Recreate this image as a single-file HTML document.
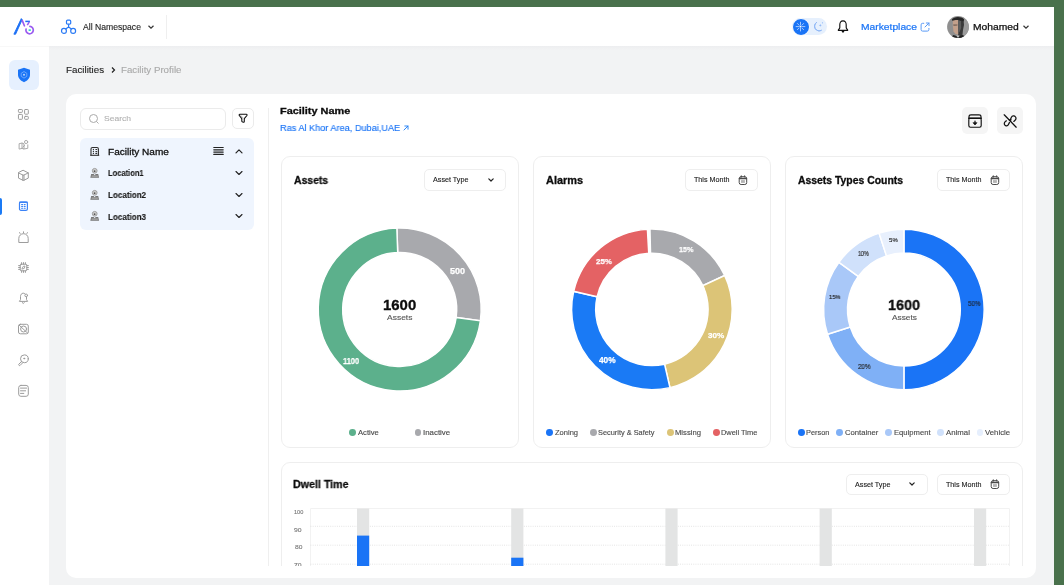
<!DOCTYPE html>
<html><head><meta charset="utf-8">
<style>
*{box-sizing:border-box;margin:0;padding:0}
html,body{width:1064px;height:585px;overflow:hidden}
body{position:relative;background:#f2f3f4;font-family:"Liberation Sans",sans-serif;color:#1d1d1d}
.a{position:absolute}
.t{position:absolute;white-space:nowrap;line-height:1;transform-origin:0 0;will-change:transform;-webkit-text-stroke-width:0.12px}
.band-top{left:0;top:0;width:1064px;height:7px;background:#49714c}
.band-right{left:1054px;top:0;width:10px;height:585px;background:#49714c}
.header{left:0;top:7px;width:1054px;height:39px;background:#fff}
.sidebar{left:0;top:46px;width:49px;height:539px;background:#fff;border-top:1px solid #f8f8f8}
.card{position:absolute;background:#fff;border-radius:10px}
.box{position:absolute;border:1px solid #eeeeee;border-radius:9px;background:#fff}
.btn{position:absolute;border:1px solid #eeeeee;border-radius:5px;background:#fff}
.title{font-weight:bold;font-size:11px;color:#111}
.lg{font-size:8px;color:#555}
.dot{position:absolute;width:7px;height:7px;border-radius:50%}
</style></head><body>
<div class="a band-top"></div>
<div class="a band-right"></div>
<div class="a header"></div>
<div class="a sidebar"></div>
<div class="a" style="left:49px;top:46px;width:1005px;height:4px;background:linear-gradient(#edeef0,#f2f3f4)"></div>

<!-- logo -->
<svg class="a" style="left:0;top:7px" width="50" height="39" viewBox="0 7 50 39">
  <path d="M13.9,34.2 L15.6,34.2 L22.2,19.6 L21.3,18.6Z" fill="#1a6ef5" stroke="#1a6ef5" stroke-width="0.9" stroke-linejoin="round"/>
  <path d="M22.3,20.6 L24.4,25.8" stroke="#9b5cf0" stroke-width="1.7" stroke-linecap="round" fill="none"/>
  <path d="M25.3,21.4 L29.9,21.4" stroke="#1a6ef5" stroke-width="1.5" fill="none"/>
  <path d="M29.3,21.8 L27.3,25.2" stroke="#9b5cf0" stroke-width="1.5" fill="none"/>
  <path d="M29.92,26.41 A3.7,3.7 0 1 1 26.03,29.14" stroke="#9b5cf0" stroke-width="1.7" fill="none" stroke-linecap="round"/>
  <rect x="28.6" y="29.3" width="2.2" height="1.7" fill="#2de0c0"/>
</svg>

<!-- namespace -->
<svg class="a" style="left:60px;top:18px" width="18" height="17" viewBox="0 0 18 17">
  <rect x="6.5" y="2.2" width="4.2" height="4" rx="1.1" stroke="#2a7af5" stroke-width="1.2" fill="none"/>
  <circle cx="3.95" cy="12.9" r="2.45" stroke="#2a7af5" stroke-width="1.2" fill="none"/>
  <circle cx="13.15" cy="12.9" r="2.45" stroke="#2a7af5" stroke-width="1.2" fill="none"/>
  <path d="M8.6,6.2 V9 M8.6,9 L5.6,10.9 M8.6,9 L11.5,10.9" stroke="#2a7af5" stroke-width="1.2" fill="none"/>
</svg>
<svg class="a" style="left:147.3px;top:23.6px" width="8" height="6" viewBox="0 0 8 6"><path d="M1.5,1.8 L4,4.2 L6.5,1.8" stroke="#333" stroke-width="1.2" fill="none"/></svg>
<div class="a" style="left:166px;top:15px;width:1px;height:24px;background:#efefef"></div>

<!-- header right -->
<div class="a" style="left:792px;top:17.6px;width:35px;height:17.8px;border-radius:9px;background:#e6f0fd"></div>
<div class="a" style="left:791.5px;top:17.6px;width:18px;height:18px;border-radius:50%;background:#1a74f6;border:1px solid #fff"></div>
<svg class="a" style="left:792px;top:18px" width="17" height="17" viewBox="0 0 17 17">
  <path d="M10.40,8.60 L12.90,8.60 M9.84,9.94 L11.61,11.71 M8.50,10.50 L8.50,13.00 M7.16,9.94 L5.39,11.71 M6.60,8.60 L4.10,8.60 M7.16,7.26 L5.39,5.49 M8.50,6.70 L8.50,4.20 M9.84,7.26 L11.61,5.49 " stroke="#c9ddfc" stroke-width="0.8" fill="none" stroke-linecap="round"/>
  <path d="M8.5,7.4 L9.7,8.6 L8.5,9.8 L7.3,8.6Z" fill="#fff"/>
</svg>
<svg class="a" style="left:810px;top:18px" width="17" height="17" viewBox="0 0 17 17">
  <path d="M6.8,4.3 A4.6,4.6 0 1 0 11.6,12.2 A3.7,3.7 0 0 1 6.8,4.3Z" stroke="#8fb8f7" stroke-width="1" fill="none" stroke-linejoin="round"/>
  <path d="M10.3,6 L10.8,7 L11.8,7.4 L10.8,7.8 L10.3,8.8 L9.8,7.8 L8.8,7.4 L9.8,7Z" fill="#8fb8f7"/>
  <circle cx="12.5" cy="4.8" r=".6" fill="#8fb8f7"/>
</svg>
<svg class="a" style="left:835.5px;top:19px" width="14" height="15" viewBox="0 0 14 15">
  <path d="M7,1.8 C4.8,1.8 3.8,3.6 3.8,5.8 V8.4 C3.8,9.8 2.3,10.3 2.3,11.3 H11.7 C11.7,10.3 10.2,9.8 10.2,8.4 V5.8 C10.2,3.6 9.2,1.8 7,1.8Z" stroke="#111" stroke-width="1.15" fill="none" stroke-linejoin="round"/>
  <path d="M5.9,11.6 L7,13.3 L8.1,11.6" stroke="#111" stroke-width="1.1" fill="none" stroke-linejoin="round"/>
</svg>
<svg class="a" style="left:919px;top:20.5px" width="12" height="12" viewBox="0 0 12 12">
  <path d="M5.2,2.3 H3.6 A1.5,1.5 0 0 0 2.1,3.8 V8.6 A1.5,1.5 0 0 0 3.6,10.1 H8.4 A1.5,1.5 0 0 0 9.9,8.6 V7" stroke="#5a9af6" stroke-width="1" fill="none"/>
  <path d="M7.3,2 H10 V4.7 M10,2 L6,6" stroke="#5a9af6" stroke-width="1" fill="none" stroke-linecap="round" stroke-linejoin="round"/>
</svg>
<svg class="a" style="left:947px;top:15.8px" width="22" height="22" viewBox="0 0 22 22">
  <defs><clipPath id="av"><circle cx="11" cy="11" r="10.9"/></clipPath></defs>
  <g clip-path="url(#av)">
    <rect width="22" height="22" fill="#8f8f8f"/>
    <rect x="16" y="0" width="6" height="22" fill="#9c9c9c"/>
    <path d="M11,2 L16.5,3 L17,9 L16,14 L15,22 H11Z" fill="#3a3a3a"/>
    <path d="M5.8,4 L11,3.2 L11.3,18.5 L8.5,18 L6.5,15.5 L5.8,10Z" fill="#c3a08b"/>
    <path d="M11,4 L14,5 L14.2,12 L12.5,16 L11.2,17Z" fill="#5c5c5c"/>
    <path d="M6.2,8.6 L10.5,8.4 L10.4,9.6 L6.5,9.7Z" fill="#6a5a52"/>
    <path d="M4.8,3.5 C7,0.2 14,0 17.2,3.2 L16.5,5.5 C14,4 8,3.4 5.6,5Z" fill="#262626"/>
    <path d="M3,22 L6.5,19 L11,20.5 L16,19 L19,22Z" fill="#222"/>
    <path d="M9.3,19.8 L11,22 L12.7,19.8 L11,19.2Z" fill="#bdbdbd"/>
  </g>
</svg>
<svg class="a" style="left:1021.5px;top:24px" width="8" height="6" viewBox="0 0 8 6"><path d="M1.5,1.8 L4,4.2 L6.5,1.8" stroke="#333" stroke-width="1.2" fill="none"/></svg>

<!-- sidebar -->
<div class="a" style="left:9px;top:60px;width:30px;height:30px;border-radius:6px;background:#e6f0fe"></div>
<svg class="a" style="left:17px;top:67px" width="14" height="16" viewBox="0 0 14 16">
  <path d="M7,0.8 L13,2.8 V7.8 C13,11.4 10.2,13.8 7,15.2 C3.8,13.8 1,11.4 1,7.8 V2.8Z" fill="#1a74f6"/>
  <path d="M7,4.5 L9.8,6.3 V9.4 L7,11.1 L4.2,9.4 V6.3Z" fill="none" stroke="#7fb0fa" stroke-width="0.8"/>
  <circle cx="7" cy="7.8" r="1" fill="#b9d5fc"/>
</svg>
<div class="a" style="left:0;top:198px;width:2px;height:17px;background:#1a7af5;border-radius:0 2px 2px 0"></div>
<svg class="a" style="left:12px;top:102px" width="24" height="24" viewBox="0 0 24 24" fill="none" stroke="#9c9c9c" stroke-width="1" stroke-linecap="round" stroke-linejoin="round"><rect x="6.45" y="7.5" width="3.95" height="2.9" rx=".7"/><rect x="6.45" y="12.4" width="3.95" height="4.9" rx=".7"/><rect x="12.6" y="7.5" width="3.7" height="4.7" rx=".7"/><rect x="12.6" y="14.4" width="3.7" height="2.9" rx=".7"/></svg><svg class="a" style="left:12px;top:133px" width="24" height="24" viewBox="0 0 24 24" fill="none" stroke="#9c9c9c" stroke-width="1" stroke-linecap="round" stroke-linejoin="round"><path d="M7.5,10.6 L10,10.1 L12,10.8 V16 L10,15.4 L7.5,16Z" stroke="#aaa"/><path d="M10,10.1 V15.4 M12,16 L15.8,15.3 V11.8" stroke="#aaa"/><circle cx="14.1" cy="9" r="1.6" stroke="#aaa"/><path d="M10.8,14.2 L12.6,12.4" stroke="#aaa"/></svg><svg class="a" style="left:12px;top:163px" width="24" height="24" viewBox="0 0 24 24" fill="none" stroke="#9c9c9c" stroke-width="1" stroke-linecap="round" stroke-linejoin="round"><path d="M11.4,7.4 L16.3,9.9 V15.1 L11.4,17.5 L6.5,15.1 V9.9Z"/><path d="M6.5,9.9 L11.4,12.3 L16.3,9.9 M10.8,12 V17.3 M12,12 V17.3"/></svg><svg class="a" style="left:12px;top:194px" width="24" height="24" viewBox="0 0 24 24" fill="none" stroke="#3b82f6" stroke-width="1.2" stroke-linecap="round" stroke-linejoin="round"><rect x="7.5" y="8.1" width="7.9" height="8.2" rx="1.4"/><path d="M7.8,8.3 H15.1" stroke-width="1.6"/><path d="M9.6,10.6 H10.6 M12.2,10.6 H13.2 M9.6,12.5 H10.6 M12.2,12.5 H13.2 M9.6,14.3 H10.6 M12.2,14.3 H13.2" stroke-width="1.1"/></svg><svg class="a" style="left:12px;top:225px" width="24" height="24" viewBox="0 0 24 24" fill="none" stroke="#9c9c9c" stroke-width="1" stroke-linecap="round" stroke-linejoin="round"><path d="M6.8,17.1 V13.4 A4.7,4.7 0 0 1 16.2,13.4 V17.1Z"/><path d="M11.5,6.8 V7.9 M7.6,7.6 L8.1,8.5 M15.4,7.6 L14.9,8.5"/></svg><svg class="a" style="left:12px;top:256px" width="24" height="24" viewBox="0 0 24 24" fill="none" stroke="#9c9c9c" stroke-width="1" stroke-linecap="round" stroke-linejoin="round"><rect x="8.2" y="8.2" width="6.6" height="6.6" rx="1"/><path d="M9.6,6.6 V8.2 M11.5,6.6 V8.2 M13.4,6.6 V8.2 M9.6,14.8 V16.4 M11.5,14.8 V16.4 M13.4,14.8 V16.4 M6.6,9.6 H8.2 M6.6,11.5 H8.2 M6.6,13.4 H8.2 M14.8,9.6 H16.4 M14.8,11.5 H16.4 M14.8,13.4 H16.4"/><path d="M10,12.8 L11.2,10.4 L13,10 L12.4,12 Z" stroke-width=".9"/></svg><svg class="a" style="left:12px;top:286px" width="24" height="24" viewBox="0 0 24 24" fill="none" stroke="#9c9c9c" stroke-width="1" stroke-linecap="round" stroke-linejoin="round"><path d="M13,7.8 C12.5,7.4 12,7.2 11.3,7.2 C9.5,7.2 8.5,8.8 8.5,10.6 V13.6 L7.4,15.4 H15.6 L14.5,13.6 V11"/><path d="M10.3,16.6 L11.3,17.4 L12.3,16.6"/><circle cx="14.2" cy="9.4" r="1.35"/></svg><svg class="a" style="left:12px;top:317px" width="24" height="24" viewBox="0 0 24 24" fill="none" stroke="#9c9c9c" stroke-width="1" stroke-linecap="round" stroke-linejoin="round"><rect x="6.5" y="7.3" width="9.8" height="9.5" rx="1.8"/><circle cx="11.6" cy="12" r="3"/><path d="M7.2,8.2 L15.5,16"/></svg><svg class="a" style="left:12px;top:348px" width="24" height="24" viewBox="0 0 24 24" fill="none" stroke="#9c9c9c" stroke-width="1" stroke-linecap="round" stroke-linejoin="round"><circle cx="12.4" cy="10.8" r="3.9"/><path d="M9.6,13.5 L6.8,16.2 A0.9,0.9 0 0 0 8.1,17.4 L10.8,14.7"/><circle cx="12.2" cy="10.5" r=".5" fill="#9c9c9c"/></svg><svg class="a" style="left:12px;top:378px" width="24" height="24" viewBox="0 0 24 24" fill="none" stroke="#9c9c9c" stroke-width="1" stroke-linecap="round" stroke-linejoin="round"><rect x="6.7" y="7.4" width="9.6" height="10.9" rx="2.2"/><path d="M8.5,10.1 H14.6 M8.5,12.8 H13.6 M8.5,15.4 H11.8"/></svg>

<!-- breadcrumb -->
<svg class="a" style="left:109.5px;top:66px" width="7" height="8" viewBox="0 0 7 8"><path d="M2,1.5 L4.5,4 L2,6.5" stroke="#222" stroke-width="1.2" fill="none"/></svg>

<!-- main card -->
<div class="card" style="left:66px;top:94px;width:970px;height:484px"></div>

<!-- left panel -->
<div class="btn" style="left:80px;top:108px;width:146px;height:21.5px;border-color:#ebebeb;border-radius:6px"></div>
<svg class="a" style="left:88px;top:113px" width="12" height="12" viewBox="0 0 12 12"><circle cx="5.5" cy="5.5" r="4" stroke="#aaa" stroke-width="1" fill="none"/><path d="M8.5,8.5 L10.5,10.5" stroke="#aaa" stroke-width="1"/></svg>
<div class="btn" style="left:232px;top:107.5px;width:22px;height:21px;border-color:#ebebeb"></div>
<svg class="a" style="left:237px;top:112px" width="12" height="12" viewBox="0 0 12 12"><path d="M2.8,2.3 H9.4 C10,2.3 10.3,3 9.9,3.5 L7.3,6.6 V9.6 C7.3,10.1 6.8,10.4 6.3,10.2 L5.3,9.7 C5,9.5 4.8,9.2 4.8,8.9 V6.6 L2.3,3.5 C1.9,3 2.2,2.3 2.8,2.3Z" stroke="#111" stroke-width="1.1" fill="none" stroke-linejoin="round"/><path d="M3.5,3.2 L6.3,6.2" stroke="#999" stroke-width="0.7"/></svg>

<div class="a" style="left:80px;top:138px;width:174px;height:92px;border-radius:6px;background:#eff5fe"></div>
<svg class="a" style="left:88px;top:145px" width="12" height="12" viewBox="0 0 12 12" fill="none" stroke="#2e2e2e" stroke-width="1.1"><path d="M3,10.3 V4 C3,3 3.5,2.5 4.5,2.5 H9 C10,2.5 10.4,3 10.4,4 V10.3"/><path d="M2.2,10.3 H11.2"/><circle cx="5.4" cy="4.5" r=".65" fill="#2e2e2e" stroke="none"/><circle cx="5.4" cy="6.5" r=".65" fill="#2e2e2e" stroke="none"/><circle cx="5.4" cy="8.4" r=".65" fill="#2e2e2e" stroke="none"/><path d="M7.9,4.5 H8.7 M7.9,6.5 H8.7 M7.9,8.4 H8.7" stroke-width="1.2" stroke-linecap="round"/></svg><div class="t" style="left:107.59px;top:147px;font-size:9.71px;font-weight:normal;color:#111;transform:scaleX(1.037);-webkit-text-stroke:0.3px #111">Facility Name</div><svg class="a" style="left:213.0px;top:146.3px" width="11" height="10" viewBox="0 0 11 10" fill="none" stroke="#222" stroke-width="1.2" stroke-linecap="round" stroke-linejoin="round"><path d="M0.8,1.5 H10.2 M0.8,3.8 H10.2 M0.8,6.1 H10.2 M0.8,8.4 H10.2"/></svg><svg class="a" style="left:234.6px;top:148.3px" width="8" height="6" viewBox="0 0 8 6" fill="none" stroke="#222" stroke-width="1.2" stroke-linecap="round" stroke-linejoin="round"><path d="M1,4.8 L4,1.8 L7,4.8"/></svg><svg class="a" style="left:89px;top:167.0px" width="11" height="11" viewBox="0 0 11 11"><circle cx="5.7" cy="3.8" r="2.4" stroke="#9a9a9a" stroke-width="0.9" fill="#cdcdcd"/><circle cx="5.6" cy="4.2" r="0.85" fill="#555"/><path d="M1.3,10.7 L2.2,7.1 H4.7 L5.7,8.3 L6.7,7.1 H9.2 L10.1,10.7Z" fill="#777"/><path d="M2.6,9.1 H8.9" stroke="#e6e6e6" stroke-width="0.6"/></svg><div class="t" style="left:107.67px;top:169px;font-size:8.55px;font-weight:bold;color:#1a1a1a;transform:scaleX(0.882);">Location1</div><svg class="a" style="left:234.6px;top:169.8px" width="8" height="6" viewBox="0 0 8 6" fill="none" stroke="#222" stroke-width="1.1" stroke-linecap="round" stroke-linejoin="round"><path d="M1,1.5 L4,4.5 L7,1.5"/></svg><svg class="a" style="left:89px;top:188.7px" width="11" height="11" viewBox="0 0 11 11"><circle cx="5.7" cy="3.8" r="2.4" stroke="#9a9a9a" stroke-width="0.9" fill="#cdcdcd"/><circle cx="5.6" cy="4.2" r="0.85" fill="#555"/><path d="M1.3,10.7 L2.2,7.1 H4.7 L5.7,8.3 L6.7,7.1 H9.2 L10.1,10.7Z" fill="#777"/><path d="M2.6,9.1 H8.9" stroke="#e6e6e6" stroke-width="0.6"/></svg><div class="t" style="left:107.64px;top:191px;font-size:8.55px;font-weight:bold;color:#1a1a1a;transform:scaleX(0.944);">Location2</div><svg class="a" style="left:234.6px;top:191.5px" width="8" height="6" viewBox="0 0 8 6" fill="none" stroke="#222" stroke-width="1.1" stroke-linecap="round" stroke-linejoin="round"><path d="M1,1.5 L4,4.5 L7,1.5"/></svg><svg class="a" style="left:89px;top:210.4px" width="11" height="11" viewBox="0 0 11 11"><circle cx="5.7" cy="3.8" r="2.4" stroke="#9a9a9a" stroke-width="0.9" fill="#cdcdcd"/><circle cx="5.6" cy="4.2" r="0.85" fill="#555"/><path d="M1.3,10.7 L2.2,7.1 H4.7 L5.7,8.3 L6.7,7.1 H9.2 L10.1,10.7Z" fill="#777"/><path d="M2.6,9.1 H8.9" stroke="#e6e6e6" stroke-width="0.6"/></svg><div class="t" style="left:107.64px;top:213px;font-size:8.55px;font-weight:bold;color:#1a1a1a;transform:scaleX(0.942);">Location3</div><svg class="a" style="left:234.6px;top:213.20000000000002px" width="8" height="6" viewBox="0 0 8 6" fill="none" stroke="#222" stroke-width="1.1" stroke-linecap="round" stroke-linejoin="round"><path d="M1,1.5 L4,4.5 L7,1.5"/></svg>

<div class="a" style="left:267.5px;top:107.5px;width:1px;height:458px;background:#efefef"></div>

<div class="a" style="left:962px;top:107px;width:26px;height:27px;border-radius:5px;background:#f5f5f5"></div>
<div class="a" style="left:997px;top:107px;width:26px;height:27px;border-radius:5px;background:#f5f5f5"></div>
<svg class="a" style="left:967.0px;top:112.5px" width="16" height="16" viewBox="0 0 16 16" fill="none" stroke="#111" stroke-width="1.15" stroke-linecap="round" stroke-linejoin="round"><path d="M2,5.3 V3.8 C2,2.5 2.8,1.9 4,1.9 H12 C13.2,1.9 14,2.5 14,3.8 V5.3"/><rect x="1.8" y="5.2" width="12.4" height="9" rx="1.6"/><path d="M1.8,5.2 H14.2" stroke-width="1.4"/><path d="M8,8 V11.2" stroke-width="1.2"/><path d="M6.3,10 L8,11.8 L9.7,10Z" fill="#111" stroke-width="0.8"/></svg><svg class="a" style="left:1002.0px;top:112.5px" width="16" height="16" viewBox="0 0 16 16" fill="none" stroke="#111" stroke-width="1.2" stroke-linecap="round" stroke-linejoin="round"><path d="M2.2,1.8 L14.2,14.2" stroke-width="1.25"/><path d="M8.4,6.4 L9.4,4.3 C10.2,2.8 12.3,2.4 13.3,3.6 C14.4,4.7 14.2,6.6 12.8,7.6 L11.8,8.4" stroke-width="1.25"/><path d="M7.4,9.6 L6.3,11.7 C5.6,13 3.8,13.2 2.9,12.2 C1.9,11.1 2.2,9.4 3.4,8.6 L4.4,7.8" stroke-width="1.25"/><path d="M7.2,6.6 L9.3,6.4 L8.6,8.2Z" fill="#111" stroke-width="0.6"/></svg>

<div class="t" style="left:83.00px;top:24px;font-size:8.26px;font-weight:normal;color:#1e1e1e;transform:scaleX(1.044);">All Namespace</div><div class="t" style="left:860.78px;top:23px;font-size:9.13px;font-weight:normal;color:#1a74f6;transform:scaleX(1.126);-webkit-text-stroke:0.2px #1a74f6">Marketplace</div><div class="t" style="left:972.92px;top:23px;font-size:9.28px;font-weight:normal;color:#111;transform:scaleX(1.111);-webkit-text-stroke:0.25px #111">Mohamed</div><div class="t" style="left:65.92px;top:66px;font-size:8.84px;font-weight:normal;color:#1e1e1e;transform:scaleX(1.107);">Facilities</div><div class="t" style="left:120.92px;top:66px;font-size:8.84px;font-weight:normal;color:#a9a9a9;transform:scaleX(1.100);">Facility Profile</div><div class="t" style="left:103.67px;top:115px;font-size:7.39px;font-weight:normal;color:#b3b3b3;transform:scaleX(1.158);">Search</div><div class="t" style="left:280.14px;top:106px;font-size:9.42px;font-weight:bold;color:#0d0d0d;transform:scaleX(1.159);-webkit-text-stroke:0.3px #0d0d0d">Facility Name</div><div class="t" style="left:280.17px;top:123px;font-size:9.57px;font-weight:normal;color:#1a74f6;transform:scaleX(0.958);-webkit-text-stroke:0.15px #1a74f6">Ras Al Khor Area, Dubai,UAE</div><svg class="a" style="left:401.5px;top:123.5px" width="8" height="8" viewBox="0 0 8 8" fill="none" stroke="#1a7af5" stroke-width="0.9" stroke-linecap="round" stroke-linejoin="round"><path d="M2,6 L6,2 M2.8,2 H6 V5.2"/></svg>
<!-- clip area -->
<div class="a" style="left:66px;top:94px;width:970px;height:471.5px;overflow:hidden">
 <div class="a" style="left:-66px;top:-94px;width:1064px;height:585px">
  <div class="box" style="left:280.6px;top:156px;width:238.4px;height:292px"></div>
  <div class="box" style="left:532.5px;top:156px;width:238.5px;height:292px"></div>
  <div class="box" style="left:785px;top:156px;width:238px;height:292px"></div>
  <div class="box" style="left:280.5px;top:462px;width:742.5px;height:200px"></div>

  <div class="t" style="left:293.69px;top:175px;font-size:10.58px;font-weight:bold;color:#0d0d0d;transform:scaleX(0.983);-webkit-text-stroke:0.3px #0d0d0d">Assets</div><div class="t" style="left:545.77px;top:175px;font-size:10.58px;font-weight:bold;color:#0d0d0d;transform:scaleX(1.033);-webkit-text-stroke:0.3px #0d0d0d">Alarms</div><div class="t" style="left:797.79px;top:176px;font-size:10.14px;font-weight:bold;color:#0d0d0d;transform:scaleX(1.027);-webkit-text-stroke:0.3px #0d0d0d">Assets Types Counts</div><div class="t" style="left:293.35px;top:479px;font-size:10.87px;font-weight:bold;color:#0d0d0d;transform:scaleX(0.983);-webkit-text-stroke:0.3px #0d0d0d">Dwell Time</div><div class="btn" style="left:424px;top:169px;width:82px;height:21.5px"></div><div class="t" style="left:432.70px;top:177px;font-size:6.96px;font-weight:normal;color:#222;transform:scaleX(1.033);">Asset Type</div><svg class="a" style="left:486.5px;top:176.75px" width="8" height="6" viewBox="0 0 8 6" fill="none" stroke="#222" stroke-width="1.2" stroke-linecap="round" stroke-linejoin="round"><path d="M1.8,1.8 L4,4 L6.2,1.8"/></svg><div class="btn" style="left:685px;top:169px;width:73px;height:21.5px"></div><div class="t" style="left:694.36px;top:177px;font-size:7.10px;font-weight:normal;color:#222;transform:scaleX(1.009);">This Month</div><svg class="a" style="left:737.0px;top:173.75px" width="12" height="12" viewBox="0 0 12 12" fill="none" stroke="#4a4a4a" stroke-width="1" stroke-linecap="round" stroke-linejoin="round"><rect x="2.2" y="2.7" width="7.5" height="7.8" rx="1.9"/><path d="M2.5,4.5 H9.4" stroke-width="1.5"/><path d="M4.3,1.8 V3 M7.6,1.8 V3"/><rect x="4" y="6.1" width="3.9" height="2.8" fill="#b4b4b4" stroke="none"/></svg><div class="btn" style="left:937px;top:169px;width:73px;height:22px"></div><div class="t" style="left:946.16px;top:177px;font-size:7.10px;font-weight:normal;color:#222;transform:scaleX(1.009);">This Month</div><svg class="a" style="left:989.0px;top:174.0px" width="12" height="12" viewBox="0 0 12 12" fill="none" stroke="#4a4a4a" stroke-width="1" stroke-linecap="round" stroke-linejoin="round"><rect x="2.2" y="2.7" width="7.5" height="7.8" rx="1.9"/><path d="M2.5,4.5 H9.4" stroke-width="1.5"/><path d="M4.3,1.8 V3 M7.6,1.8 V3"/><rect x="4" y="6.1" width="3.9" height="2.8" fill="#b4b4b4" stroke="none"/></svg><div class="btn" style="left:846px;top:473.5px;width:81.5px;height:21.5px"></div><div class="t" style="left:854.70px;top:482px;font-size:6.96px;font-weight:normal;color:#222;transform:scaleX(1.033);">Asset Type</div><svg class="a" style="left:908.0px;top:481.25px" width="8" height="6" viewBox="0 0 8 6" fill="none" stroke="#222" stroke-width="1.2" stroke-linecap="round" stroke-linejoin="round"><path d="M1.8,1.8 L4,4 L6.2,1.8"/></svg><div class="btn" style="left:937px;top:473.5px;width:73px;height:21.5px"></div><div class="t" style="left:946.16px;top:482px;font-size:7.10px;font-weight:normal;color:#222;transform:scaleX(1.009);">This Month</div><svg class="a" style="left:989.0px;top:478.25px" width="12" height="12" viewBox="0 0 12 12" fill="none" stroke="#4a4a4a" stroke-width="1" stroke-linecap="round" stroke-linejoin="round"><rect x="2.2" y="2.7" width="7.5" height="7.8" rx="1.9"/><path d="M2.5,4.5 H9.4" stroke-width="1.5"/><path d="M4.3,1.8 V3 M7.6,1.8 V3"/><rect x="4" y="6.1" width="3.9" height="2.8" fill="#b4b4b4" stroke="none"/></svg>

  <svg class="a" style="left:0;top:0" width="1064" height="585" viewBox="0 0 1064 585">
   <path d="M396.86,228.05 A81.5,81.5 0 0 1 480.41,320.84 L456.15,317.43 A57,57 0 0 0 397.71,252.53 Z" fill="#a8a9ad" stroke="#fff" stroke-width="1.5"/><path d="M480.41,320.84 A81.5,81.5 0 1 1 396.86,228.05 L397.71,252.53 A57,57 0 1 0 456.15,317.43 Z" fill="#5cb08c" stroke="#fff" stroke-width="1.5"/><path d="M649.94,229.12 A80.3,80.3 0 0 1 724.68,275.46 L702.83,285.65 A56.2,56.2 0 0 0 650.53,253.22 Z" fill="#a8a9ad" stroke="#fff" stroke-width="1.5"/><path d="M724.68,275.46 A80.3,80.3 0 0 1 669.96,387.64 L664.54,364.16 A56.2,56.2 0 0 0 702.83,285.65 Z" fill="#dcc477" stroke="#fff" stroke-width="1.5"/><path d="M669.96,387.64 A80.3,80.3 0 0 1 573.66,291.34 L597.14,296.76 A56.2,56.2 0 0 0 664.54,364.16 Z" fill="#1a7af5" stroke="#fff" stroke-width="1.5"/><path d="M573.66,291.34 A80.3,80.3 0 0 1 647.42,229.23 L648.76,253.29 A56.2,56.2 0 0 0 597.14,296.76 Z" fill="#e46264" stroke="#fff" stroke-width="1.5"/><path d="M903.90,229.20 A80.3,80.3 0 0 1 903.90,389.80 L903.90,365.90 A56.4,56.4 0 0 0 903.90,253.10 Z" fill="#1a74f6" stroke="#fff" stroke-width="1.5"/><path d="M903.90,389.80 A80.3,80.3 0 0 1 827.53,334.31 L850.26,326.93 A56.4,56.4 0 0 0 903.90,365.90 Z" fill="#7fb0f6" stroke="#fff" stroke-width="1.5"/><path d="M827.53,334.31 A80.3,80.3 0 0 1 838.94,262.30 L858.27,276.35 A56.4,56.4 0 0 0 850.26,326.93 Z" fill="#a9c8f8" stroke="#fff" stroke-width="1.5"/><path d="M838.94,262.30 A80.3,80.3 0 0 1 879.09,233.13 L886.47,255.86 A56.4,56.4 0 0 0 858.27,276.35 Z" fill="#d0e1fb" stroke="#fff" stroke-width="1.5"/><path d="M879.09,233.13 A80.3,80.3 0 0 1 903.90,229.20 L903.90,253.10 A56.4,56.4 0 0 0 886.47,255.86 Z" fill="#e8f0fd" stroke="#fff" stroke-width="1.5"/>
  </svg>
  <div class="t" style="left:383.10px;top:298px;font-size:14.64px;font-weight:bold;color:#0d0d0d;transform:scaleX(1.021);-webkit-text-stroke:0.3px #0d0d0d">1600</div><div class="t" style="left:387.30px;top:314px;font-size:7.83px;font-weight:normal;color:#555;transform:scaleX(1.083);">Assets</div><div class="t" style="left:887.54px;top:298px;font-size:14.78px;font-weight:bold;color:#0d0d0d;transform:scaleX(0.973);-webkit-text-stroke:0.3px #0d0d0d">1600</div><div class="t" style="left:891.50px;top:314px;font-size:7.97px;font-weight:normal;color:#555;transform:scaleX(1.043);">Assets</div><div class="t" style="left:450.43px;top:267px;font-size:8.70px;font-weight:bold;color:#fff;transform:scaleX(1.042);-webkit-text-stroke:0.25px #fff">500</div><div class="t" style="left:343.15px;top:357px;font-size:8.84px;font-weight:bold;color:#fff;transform:scaleX(0.842);-webkit-text-stroke:0.25px #fff">1100</div><div class="t" style="left:678.67px;top:246px;font-size:7.83px;font-weight:bold;color:#fff;transform:scaleX(0.918);-webkit-text-stroke:0.25px #fff">15%</div><div class="t" style="left:707.84px;top:332px;font-size:8.12px;font-weight:bold;color:#fff;transform:scaleX(0.999);-webkit-text-stroke:0.25px #fff">30%</div><div class="t" style="left:598.52px;top:357px;font-size:8.26px;font-weight:bold;color:#fff;transform:scaleX(1.008);-webkit-text-stroke:0.25px #fff">40%</div><div class="t" style="left:596.16px;top:258px;font-size:8.12px;font-weight:bold;color:#fff;transform:scaleX(0.979);-webkit-text-stroke:0.25px #fff">25%</div><div class="t" style="left:967.75px;top:301px;font-size:6.67px;font-weight:normal;color:#1a2a44;transform:scaleX(0.932);-webkit-text-stroke:0.15px #222">50%</div><div class="t" style="left:857.69px;top:364px;font-size:6.96px;font-weight:normal;color:#222;transform:scaleX(0.898);-webkit-text-stroke:0.15px #222">20%</div><div class="t" style="left:828.94px;top:294px;font-size:6.09px;font-weight:normal;color:#222;transform:scaleX(0.938);-webkit-text-stroke:0.15px #222">15%</div><div class="t" style="left:858.07px;top:251px;font-size:6.52px;font-weight:normal;color:#222;transform:scaleX(0.820);-webkit-text-stroke:0.15px #222">10%</div><div class="t" style="left:888.76px;top:237px;font-size:6.09px;font-weight:normal;color:#222;transform:scaleX(0.983);-webkit-text-stroke:0.15px #222">5%</div>
  <div class="dot" style="left:349.2px;top:428.90000000000003px;width:6.8px;height:6.8px;background:#5cb08c"></div><div class="t" style="left:358.40px;top:430px;font-size:6.96px;font-weight:normal;color:#4a4a4a;transform:scaleX(1.099);">Active</div><div class="dot" style="left:414.6px;top:428.90000000000003px;width:6.8px;height:6.8px;background:#a8a9ad"></div><div class="t" style="left:423.09px;top:430px;font-size:6.96px;font-weight:normal;color:#4a4a4a;transform:scaleX(1.133);">Inactive</div><div class="dot" style="left:545.8px;top:428.90000000000003px;width:6.8px;height:6.8px;background:#1a74f6"></div><div class="t" style="left:554.67px;top:430px;font-size:6.96px;font-weight:normal;color:#4a4a4a;transform:scaleX(1.082);">Zoning</div><div class="dot" style="left:589.8px;top:428.90000000000003px;width:6.8px;height:6.8px;background:#a8a9ad"></div><div class="t" style="left:598.43px;top:430px;font-size:6.96px;font-weight:normal;color:#4a4a4a;transform:scaleX(1.060);">Security &amp; Safety</div><div class="dot" style="left:667px;top:428.90000000000003px;width:6.8px;height:6.8px;background:#dcc477"></div><div class="t" style="left:675.39px;top:430px;font-size:6.96px;font-weight:normal;color:#4a4a4a;transform:scaleX(1.100);">Missing</div><div class="dot" style="left:712.8px;top:428.90000000000003px;width:6.8px;height:6.8px;background:#e46264"></div><div class="t" style="left:721.21px;top:430px;font-size:6.96px;font-weight:normal;color:#4a4a4a;transform:scaleX(1.069);">Dwell Time</div><div class="dot" style="left:797.9px;top:428.90000000000003px;width:6.8px;height:6.8px;background:#1a74f6"></div><div class="t" style="left:806.31px;top:430px;font-size:6.96px;font-weight:normal;color:#4a4a4a;transform:scaleX(1.061);">Person</div><div class="dot" style="left:836.2px;top:428.90000000000003px;width:6.8px;height:6.8px;background:#7fb0f6"></div><div class="t" style="left:845.01px;top:430px;font-size:6.96px;font-weight:normal;color:#4a4a4a;transform:scaleX(1.107);">Container</div><div class="dot" style="left:885.3px;top:428.90000000000003px;width:6.8px;height:6.8px;background:#a9c8f8"></div><div class="t" style="left:893.69px;top:430px;font-size:6.96px;font-weight:normal;color:#4a4a4a;transform:scaleX(1.100);">Equipment</div><div class="dot" style="left:937px;top:428.90000000000003px;width:6.8px;height:6.8px;background:#d0e1fb"></div><div class="t" style="left:946.00px;top:430px;font-size:6.96px;font-weight:normal;color:#4a4a4a;transform:scaleX(1.124);">Animal</div><div class="dot" style="left:976.5px;top:428.90000000000003px;width:6.8px;height:6.8px;background:#e6effd"></div><div class="t" style="left:985.12px;top:430px;font-size:6.96px;font-weight:normal;color:#4a4a4a;transform:scaleX(1.120);">Vehicle</div>
  <div class="t" style="left:293.55px;top:510px;font-size:5.22px;font-weight:normal;color:#7a7a7a;transform:scaleX(1.075);">100</div><div class="t" style="left:294.46px;top:528px;font-size:5.22px;font-weight:normal;color:#7a7a7a;transform:scaleX(1.296);">90</div><div class="t" style="left:294.53px;top:545px;font-size:5.22px;font-weight:normal;color:#7a7a7a;transform:scaleX(1.283);">80</div><div class="t" style="left:294.46px;top:563px;font-size:5.22px;font-weight:normal;color:#7a7a7a;transform:scaleX(1.296);">70</div><svg class="a" style="left:0;top:0" width="1064" height="585" viewBox="0 0 1064 585"><path d="M310.5,508.5 H1009.5 M310.5,508.5 V600 M1009.5,508.5 V600" stroke="#f2f2f2" stroke-width="1" fill="none"/><path d="M310.5,526.3 H1009.5" stroke="#d6d6d6" stroke-width="0.7" stroke-dasharray="0.9,1.3" fill="none"/><path d="M310.5,545.2 H1009.5" stroke="#d6d6d6" stroke-width="0.7" stroke-dasharray="0.9,1.3" fill="none"/><path d="M310.5,564.2 H1009.5" stroke="#d6d6d6" stroke-width="0.7" stroke-dasharray="0.9,1.3" fill="none"/><rect x="357" y="508.5" width="12.2" height="100" fill="#e3e4e4"/><rect x="511.2" y="508.5" width="12.2" height="100" fill="#e3e4e4"/><rect x="665.4" y="508.5" width="12.2" height="100" fill="#e3e4e4"/><rect x="819.6" y="508.5" width="12.2" height="100" fill="#e3e4e4"/><rect x="974" y="508.5" width="12.2" height="100" fill="#e3e4e4"/><rect x="357" y="535.6" width="12.2" height="100" fill="#1a74f6"/><rect x="511.2" y="557.7" width="12.2" height="100" fill="#1a74f6"/></svg>
 </div>
</div>
</body></html>
